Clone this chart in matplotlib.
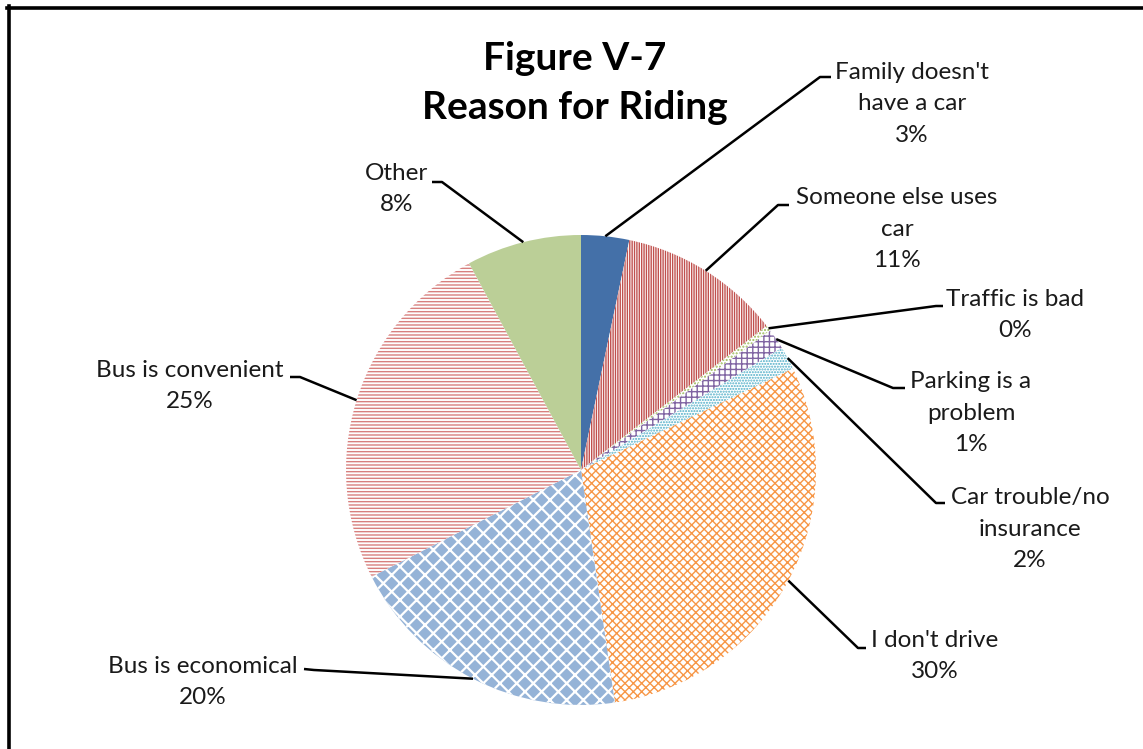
import matplotlib
matplotlib.use('Agg')
import matplotlib.pyplot as plt
from matplotlib.lines import Line2D
import numpy as np

W, H = 1143, 749

# データ（円グラフの値は画像から読み取った推定値）
labels = ["Family doesn't\nhave a car", 'Someone else uses\ncar', 'Traffic is bad',
          'Parking is a\nproblem', 'Car trouble/no\ninsurance', "I don't drive",
          'Bus is economical', 'Bus is convenient', 'Other']
shares = [3.3, 11.2, 0.4, 1.4, 1.6, 29.8, 19.8, 24.6, 7.9]

face_colors = ['#4470A8', 'white', 'white', 'white', 'white', 'white',
               '#95B3D7', 'white', '#BBCF97']
hatch_colors = ['#4470A8', '#C0504D', '#9BBB59', '#8064A2', '#4BACC6', '#F79646',
                'white', '#D8807E', '#BBCF97']
hatches = [None, '|||||||', '.....', '+++', '......', 'xxxx', 'xx', '-----', None]

# ラベルの配置（左上原点のピクセル座標）: 文字ブロック中心, 引き出し線の折れ点, 水平線の端
label_xy = [(912, 104), (897, 229), (1015, 315), (971, 413), (1030, 529),
            (935, 656), (203, 682), (190, 386), (397, 189)]
elbow_xy = [(820, 77), (778, 205), (936, 306), (893, 388), (936, 503),
            (858, 648), (314, 670), (300, 377), (442, 182)]
end_xy = [(831, 77), (789, 205), (943, 306), (905, 388), (945, 503),
          (866, 648), (304, 669), (290, 377), (432, 182)]


def fy(y):
    # 画像の上からのピクセルを下からの座標へ
    return H - y


def main():
    plt.rcParams['font.family'] = ['Lato', 'DejaVu Sans']
    fig = plt.figure(figsize=(W / 100, H / 100), dpi=100)
    ax = fig.add_axes([0, 0, 1, 1])

    center = (581, fy(470))
    radius = 235
    wedges, _ = ax.pie(shares, colors=face_colors, startangle=90, counterclock=False,
                       center=center, radius=radius, frame=True,
                       wedgeprops=dict(linewidth=0))
    for w, hc, h in zip(wedges, hatch_colors, hatches):
        w.set_edgecolor(hc)
        w.set_linewidth(0)
        if h:
            w.set_hatch(h)
    if hasattr(wedges[6], 'set_hatch_linewidth'):
        wedges[6].set_hatch_linewidth(1.6)
    ax.set_xlim(0, W)
    ax.set_ylim(0, H)
    ax.axis('off')

    # 引き出し線とラベル
    for w, lab, share, txy, exy, hxy in zip(wedges, labels, shares, label_xy, elbow_xy, end_xy):
        mid = np.deg2rad((w.theta1 + w.theta2) / 2)
        sx = center[0] + radius * np.cos(mid)
        sy = center[1] + radius * np.sin(mid)
        ax.plot([sx, exy[0], hxy[0]], [sy, fy(exy[1]), fy(hxy[1])],
                color='black', lw=1.8, solid_capstyle='butt')
        ax.text(txy[0], fy(txy[1]), f'{lab}\n{round(share)}%', ha='center', va='center',
                fontsize=17.5, linespacing=1.59, color='#1a1a1a')

    ax.text(575, fy(83), 'Figure V-7\nReason for Riding', ha='center', va='center',
            fontsize=28, fontweight='bold', linespacing=1.46)

    # グラフエリアの枠線
    fig.add_artist(Line2D([7 / W, 1], [1 - 7.5 / H, 1 - 7.5 / H], color='black', lw=2.6,
                          transform=fig.transFigure))
    fig.add_artist(Line2D([8.5 / W, 8.5 / W], [0, 1 - 6 / H], color='black', lw=2.6,
                          transform=fig.transFigure))

    plt.savefig('out.png', dpi=100)


if __name__ == '__main__':
    main()
